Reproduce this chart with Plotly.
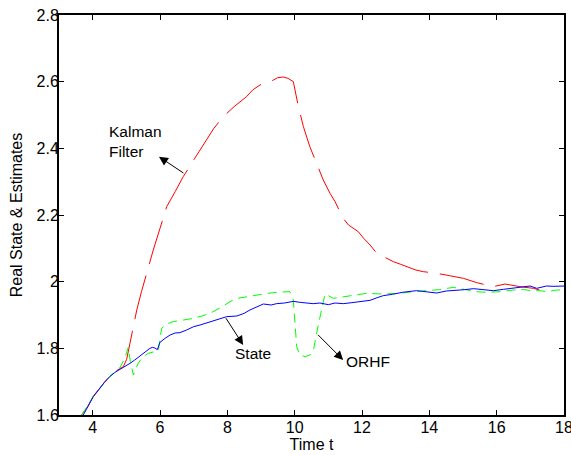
import plotly.graph_objects as go

# ---------------- data ----------------
t_state = [3.72, 3.85, 4.02, 4.2, 4.35, 4.51, 4.65, 4.81, 4.95, 5.11, 5.25, 5.41, 5.55, 5.70, 5.78, 5.85,
           5.92, 6.0, 6.15, 6.30, 6.45, 6.59, 6.79, 7.0, 7.19, 7.4, 7.58, 7.8, 7.98, 8.28, 8.5, 8.67,
           8.9, 9.07, 9.3, 9.46, 9.7, 9.96, 10.16, 10.35, 10.55, 10.75, 11.0, 11.2, 11.44, 11.7, 12.0,
           12.24, 12.45, 12.63, 12.9, 13.2, 13.62, 13.9, 14.22, 14.5, 14.81, 15.05, 15.31, 15.6, 15.9,
           16.2, 16.49, 16.75, 16.99, 17.19, 17.48, 17.7, 18.0]
y_state = [1.600, 1.625, 1.655, 1.678, 1.698, 1.715, 1.727, 1.737, 1.745, 1.755, 1.765, 1.777, 1.787, 1.800,
           1.803, 1.801, 1.796, 1.818, 1.830, 1.840, 1.846, 1.847, 1.855, 1.865, 1.870, 1.877, 1.883, 1.889,
           1.895, 1.897, 1.905, 1.915, 1.925, 1.933, 1.930, 1.934, 1.936, 1.941, 1.938, 1.937, 1.934, 1.936,
           1.931, 1.936, 1.934, 1.937, 1.942, 1.944, 1.952, 1.958, 1.962, 1.968, 1.973, 1.970, 1.966, 1.972,
           1.973, 1.976, 1.979, 1.975, 1.973, 1.977, 1.980, 1.983, 1.987, 1.980, 1.987, 1.986, 1.987]

t_orhf = [3.67, 3.85, 4.02, 4.2, 4.35, 4.51, 4.65, 4.81, 4.95, 5.06, 5.12, 5.21, 5.35, 5.5, 5.65, 5.8,
          5.95, 6.0, 6.05, 6.2, 6.39, 6.7, 6.99, 7.25, 7.48, 7.8, 8.08, 8.3, 8.57, 8.97, 9.2, 9.46, 9.86,
          9.96, 10.02, 10.06, 10.15, 10.31, 10.45, 10.55, 10.65, 10.8, 10.9, 11.15, 11.6, 12.14, 12.6,
          13.13, 13.5, 13.92, 14.3, 14.71, 15.0, 15.4, 15.7, 16.1, 16.5, 16.79, 17.0, 17.28, 17.5, 17.78, 18.0]
y_orhf = [1.600, 1.627, 1.657, 1.680, 1.700, 1.717, 1.728, 1.742, 1.770, 1.803, 1.760, 1.720, 1.755, 1.775,
          1.785, 1.790, 1.793, 1.830, 1.860, 1.873, 1.880, 1.885, 1.890, 1.897, 1.905, 1.922, 1.940, 1.950,
          1.955, 1.962, 1.965, 1.968, 1.970, 1.945, 1.870, 1.805, 1.780, 1.775, 1.780, 1.790, 1.845, 1.915,
          1.963, 1.950, 1.957, 1.965, 1.963, 1.965, 1.970, 1.973, 1.976, 1.983, 1.977, 1.970, 1.968, 1.970,
          1.975, 1.977, 1.973, 1.973, 1.970, 1.975, 1.975]

t_kalman = [3.67, 3.85, 4.02, 4.2, 4.35, 4.51, 4.65, 4.81, 4.91, 5.01, 5.15, 5.31, 5.45, 5.65, 5.8, 6.0,
            6.2, 6.45, 6.69, 7.0, 7.39, 7.6, 7.88, 8.2, 8.57, 8.75, 8.97, 9.2, 9.37, 9.5, 9.66, 9.75, 9.8,
            9.96, 10.1, 10.26, 10.45, 10.65, 10.85, 11.05, 11.2, 11.44, 11.6, 11.89, 12.05, 12.24, 12.44,
            12.7, 12.93, 13.15, 13.33, 13.6, 13.82, 14.22, 14.6, 15.01, 15.41, 15.65, 15.9, 16.25, 16.69,
            17.09, 17.28, 17.53]
y_kalman = [1.600, 1.625, 1.657, 1.680, 1.700, 1.718, 1.730, 1.740, 1.745, 1.767, 1.840, 1.915, 1.970, 2.045,
            2.095, 2.160, 2.225, 2.270, 2.315, 2.365, 2.425, 2.460, 2.495, 2.525, 2.555, 2.575, 2.590, 2.597,
            2.605, 2.612, 2.614, 2.612, 2.610, 2.600, 2.530, 2.465, 2.405, 2.355, 2.305, 2.265, 2.240, 2.190,
            2.170, 2.150, 2.130, 2.110, 2.085, 2.072, 2.060, 2.052, 2.045, 2.035, 2.030, 2.025, 2.018, 2.010,
            1.997, 1.990, 1.985, 1.993, 1.985, 1.980, 1.975, 1.978]

x_ticks = [4, 6, 8, 10, 12, 14, 16, 18]
y_ticks = [1.6, 1.8, 2.0, 2.2, 2.4, 2.6, 2.8]
y_tick_text = ["1.6", "1.8", "2", "2.2", "2.4", "2.6", "2.8"]

FONT = "Liberation Sans, Arial, sans-serif"

fig = go.Figure()
fig.add_trace(go.Scatter(x=t_kalman, y=y_kalman, mode="lines",
                         line=dict(color="#ff0000", width=1, dash="45px,12px"), name="Kalman Filter"))
fig.add_trace(go.Scatter(x=t_orhf, y=y_orhf, mode="lines",
                         line=dict(color="#00ff00", width=1, dash="9px,6px"), name="ORHF"))
fig.add_trace(go.Scatter(x=t_state, y=y_state, mode="lines",
                         line=dict(color="#0000ff", width=1), name="State"))

ann_font = dict(family=FONT, size=15.5, color="black")
fig.add_annotation(x=5.97, y=2.375, ax=6.74, ay=2.323, axref="x", ayref="y", xref="x", yref="y",
                   showarrow=True, arrowhead=2, arrowsize=1.8, arrowwidth=1, arrowcolor="black", text="")
fig.add_annotation(x=8.47, y=1.81, ax=7.93, ay=1.895, axref="x", ayref="y", xref="x", yref="y",
                   showarrow=True, arrowhead=2, arrowsize=1.8, arrowwidth=1, arrowcolor="black", text="")
fig.add_annotation(x=11.44, y=1.765, ax=10.65, ay=1.845, axref="x", ayref="y", xref="x", yref="y",
                   showarrow=True, arrowhead=2, arrowsize=1.8, arrowwidth=1, arrowcolor="black", text="")
fig.add_annotation(x=5.26, y=2.422, xref="x", yref="y", text="Kalman<br>Filter", showarrow=False,
                   align="left", font=ann_font)
fig.add_annotation(x=8.76, y=1.786, xref="x", yref="y", text="State", showarrow=False, font=ann_font)
fig.add_annotation(x=12.18, y=1.76, xref="x", yref="y", text="ORHF", showarrow=False, font=ann_font)

axis_common = dict(showline=True, linecolor="black", linewidth=2, mirror="ticks", ticks="inside",
                   ticklen=5, tickcolor="black", tickwidth=1, showgrid=False, zeroline=False,
                   automargin=False, ticklabeloverflow="allow",
                   tickfont=dict(family=FONT, size=16, color="black"))
fig.update_xaxes(range=[3, 18], tickvals=x_ticks, ticklabelstandoff=-3, **axis_common,
                 title=dict(text="Time t", font=dict(family=FONT, size=16, color="black"), standoff=2))
fig.update_yaxes(range=[1.6, 2.8], tickvals=y_ticks, ticktext=y_tick_text, ticklabelstandoff=-5,
                 **axis_common,
                 title=dict(text="Real State & Estimates", font=dict(family=FONT, size=16, color="black"),
                            standoff=10))

fig.update_layout(width=571, height=455, margin=dict(l=59, r=7, t=15, b=40),
                  paper_bgcolor="white", plot_bgcolor="white", showlegend=False,
                  font=dict(family=FONT, color="black"))

fig.write_html("out.html", config={"displayModeBar": False},
               post_script="document.body.style.margin='0';document.body.style.overflow='hidden';")
